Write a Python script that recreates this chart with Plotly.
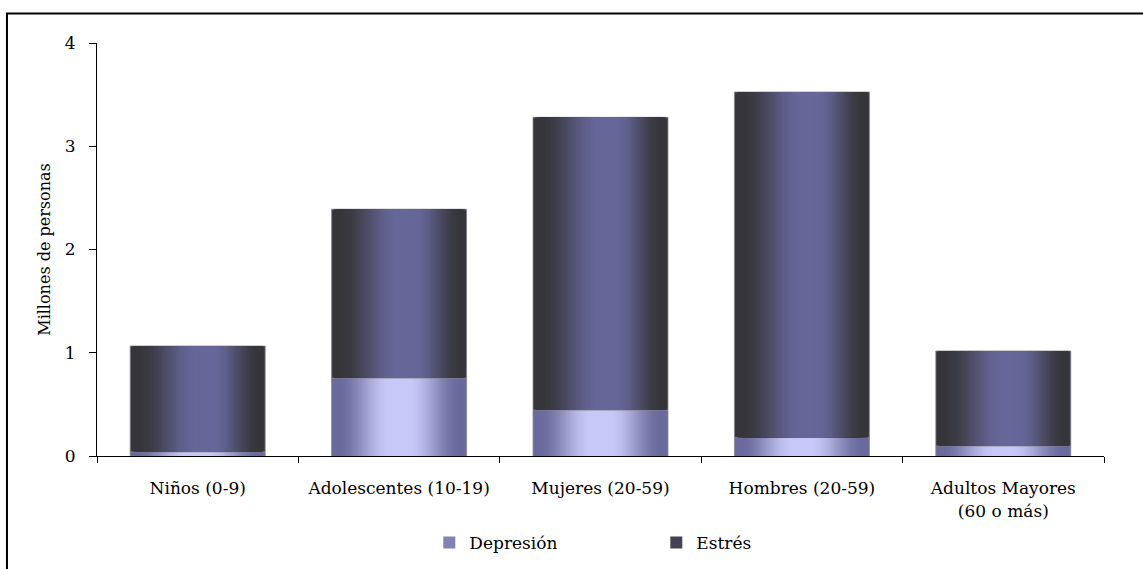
import plotly.graph_objects as go

categories = ["Niños (0-9)", "Adolescentes (10-19)", "Mujeres (20-59)", "Hombres (20-59)", "Adultos Mayores<br>(60 o más)"]
depresion = [0.04, 0.755, 0.445, 0.18, 0.097]
estres = [1.025, 1.635, 2.835, 3.345, 0.92]

DEP_EDGE, DEP_CENTER = (0x6a, 0x6a, 0x9c), (0xc8, 0xc8, 0xf8)
EST_EDGE, EST_CENTER = (0x36, 0x36, 0x3a), (0x66, 0x66, 0x98)

BAR_W = 0.67
N_LAYERS = 30
LEGEND_LAYER = 10


def lerp(a, b, t):
    return "rgb(%d,%d,%d)" % tuple(round(a[i] + (b[i] - a[i]) * t) for i in range(3))


def prof(s):
    t = (s - 0.08) / (0.85 - 0.08)
    t = max(0.0, min(1.0, t))
    return t * t * (3 - 2 * t)


fig = go.Figure()
for name, vals, base, edge, center, peak in [
    ("Depresión", depresion, [0] * len(depresion), DEP_EDGE, DEP_CENTER, 0.5),
    ("Estrés", estres, depresion, EST_EDGE, EST_CENTER, 0.56),
]:
    for k in range(N_LAYERS):
        s = k / N_LAYERS
        a = s * peak
        b = 1 - s * (1 - peak)
        fig.add_trace(go.Bar(
            x=categories, y=vals, base=base,
            width=BAR_W * (b - a),
            offset=-BAR_W / 2 + a * BAR_W,
            name=name,
            legendgroup=name,
            showlegend=(k == LEGEND_LAYER),
            marker=dict(color=lerp(edge, center, prof(s)),
                        line=dict(width=1 if k == 0 else 0, color="rgba(130,130,140,0.8)")),
            hoverinfo="skip" if k else None,
        ))

font_family = "DejaVu Serif"
fig.update_layout(
    barmode="overlay",
    width=1143, height=569,
    margin=dict(l=97, r=39, t=43, b=113),
    plot_bgcolor="white", paper_bgcolor="white",
    font=dict(family=font_family, size=17, color="black"),
    showlegend=True,
    legend=dict(orientation="h", x=0.330, xanchor="left", yref="container", y=0.046,
                yanchor="middle", entrywidth=182, font=dict(size=17), itemwidth=30),
    shapes=[dict(type="rect", xref="paper", yref="paper",
                 x0=-0.0894, x1=1.2, y0=-0.5, y1=1.0714,
                 line=dict(color="black", width=2), fillcolor="rgba(0,0,0,0)", layer="below")],
)
fig.update_xaxes(showline=True, linecolor="black", linewidth=1, ticks="outside",
                 tickson="boundaries", ticklen=6, tickcolor="black", showgrid=False,
                 ticklabelstandoff=17, automargin=False)
fig.update_yaxes(range=[0, 4], dtick=1, showline=True, linecolor="black", linewidth=1,
                 ticks="outside", ticklen=7, tickcolor="black", showgrid=False,
                 zeroline=False, ticklabelstandoff=10, automargin=False,
                 title=dict(text="Millones de personas", standoff=10, font=dict(size=16)))

fig.write_html("out.html")
